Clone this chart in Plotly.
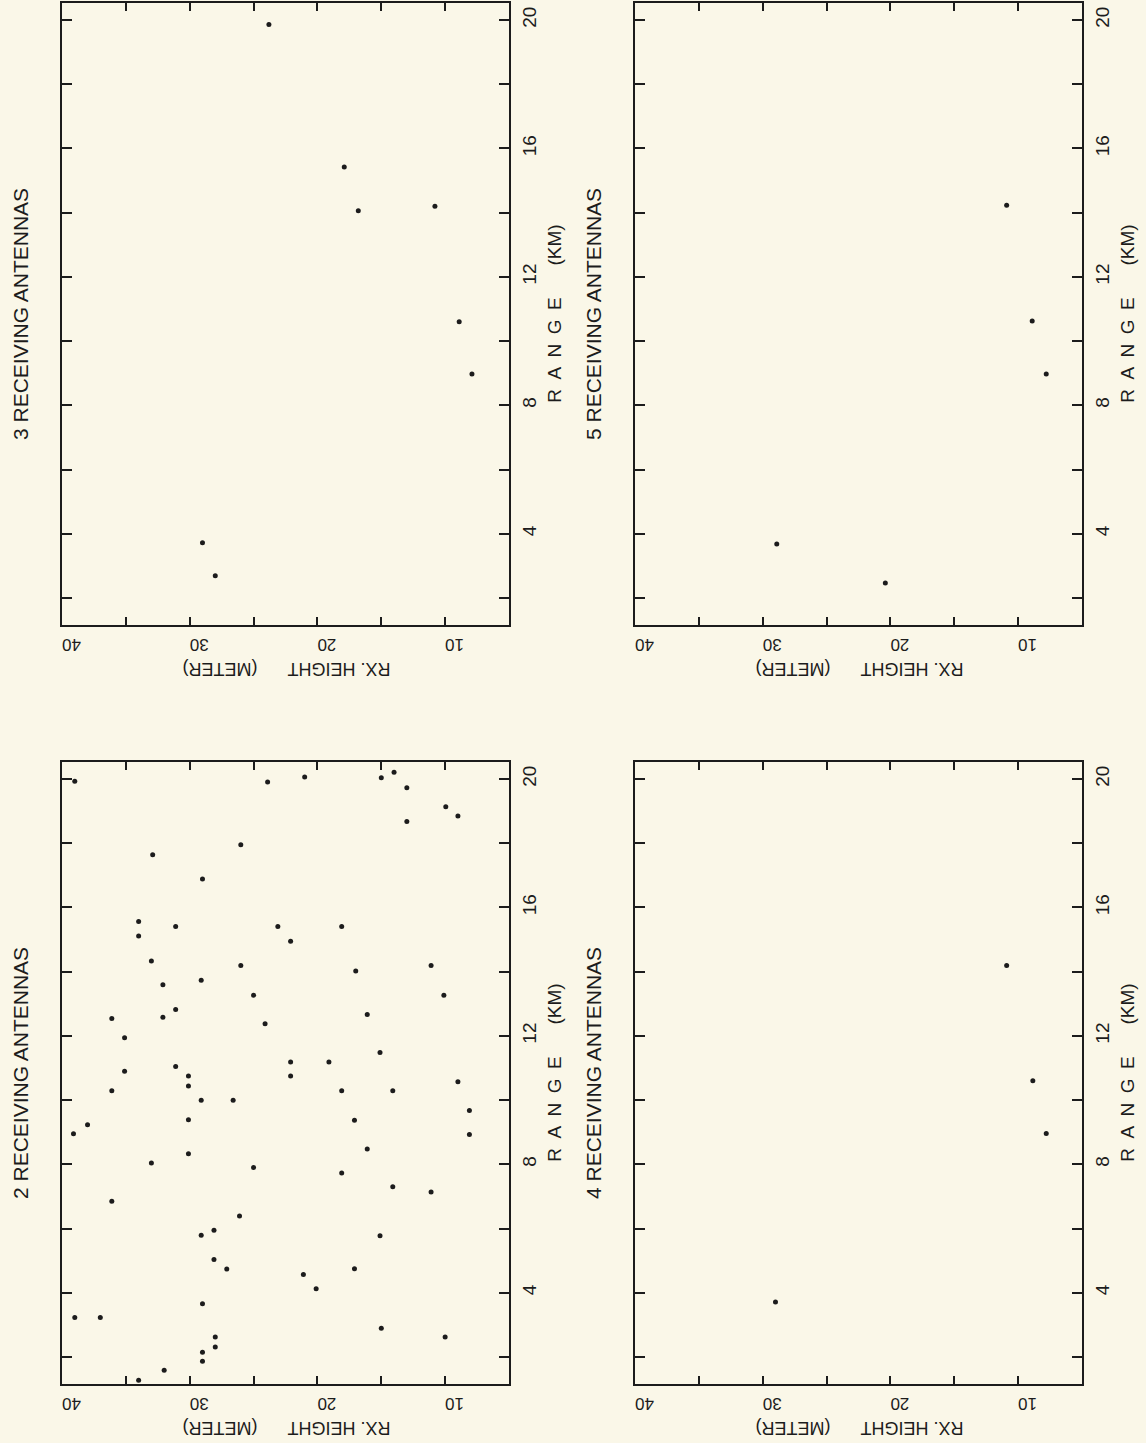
import plotly.graph_objects as go

W, H = 1146, 1443
FONT = "Liberation Sans, Arial, sans-serif"
INK = "#1c1c1c"
PAPER = "#faf7e8"

# ---- data: receiver height (m) vs range (km) for each antenna count ----
ant2_height = [39.0, 23.9, 21.0, 15.0, 14.0, 13.0, 9.95, 9.0, 13.0, 26.0,
               32.9, 29.0, 34.0, 31.1, 23.1, 18.1, 34.0, 22.1, 33.0, 26.0,
               11.1, 29.1, 17.0, 32.1, 25.0, 10.1, 36.1, 32.1, 31.1, 16.1,
               24.1, 35.1, 15.1, 35.1, 31.1, 30.1, 30.1, 22.1, 19.1, 22.1,
               9.0, 36.1, 18.1, 14.1, 29.1, 26.6, 8.1, 38.0, 39.1, 30.1,
               17.1, 8.1, 16.1, 30.1, 33.0, 25.0, 18.1, 14.1, 11.1, 36.1,
               26.1, 28.1, 29.1, 15.1, 28.1, 27.1, 17.1, 21.1, 20.1, 29.0,
               39.0, 37.0, 15.0, 28.0, 10.0, 28.0, 29.0, 29.0, 32.0, 34.0]
ant2_range = [19.93, 19.91, 20.06, 20.04, 20.21, 19.73, 19.14, 18.85, 18.68, 17.95,
              17.64, 16.89, 15.56, 15.41, 15.41, 15.41, 15.11, 14.95, 14.33, 14.19,
              14.19, 13.73, 14.02, 13.59, 13.27, 13.27, 12.54, 12.58, 12.82, 12.67,
              12.38, 11.94, 11.48, 10.90, 11.05, 10.75, 10.44, 11.19, 11.19, 10.75,
              10.57, 10.29, 10.29, 10.29, 10.0, 10.0, 9.68, 9.23, 8.95, 9.39,
              9.37, 8.93, 8.48, 8.33, 8.04, 7.90, 7.73, 7.30, 7.14, 6.85,
              6.39, 5.95, 5.79, 5.78, 5.04, 4.74, 4.75, 4.57, 4.13, 3.66,
              3.23, 3.23, 2.90, 2.62, 2.62, 2.31, 2.15, 1.87, 1.59, 1.28]

ant3_height = [23.8, 17.9, 16.8, 10.8, 8.9, 7.9, 29.0, 28.0]
ant3_range = [19.86, 15.42, 14.06, 14.2, 10.6, 8.98, 3.72, 2.69]

ant4_height = [29.0, 10.9, 8.85, 7.8]
ant4_range = [3.71, 14.19, 10.6, 8.96]

ant5_height = [28.9, 20.4, 10.9, 8.9, 7.8]
ant5_range = [3.68, 2.47, 14.23, 10.63, 8.98]

height_ticks = [10, 15, 20, 25, 30, 35, 40]
height_labels = ["10", "", "20", "", "30", "", "40"]
range_ticks = [2, 4, 6, 8, 10, 12, 14, 16, 18, 20]
range_labels = ["", "4", "", "8", "", "12", "", "16", "", "20"]
panel_titles = ["3 RECEIVING ANTENNAS", "5 RECEIVING ANTENNAS",
                "2 RECEIVING ANTENNAS", "4 RECEIVING ANTENNAS"]

HEIGHT_SPAN = [40, 5]
RANGE_SPAN = [1.16, 20.53]

# panel boxes in pixels: (left, right, top, bottom)
COLS = [(62, 509), (635, 1082)]
ROWS = [(3, 625), (762, 1384)]

def px_x(p):
    return p / W

def px_y(p):
    return 1 - p / H

fig = go.Figure()

panels = [
    (ant3_height, ant3_range, 0, 0),
    (ant5_height, ant5_range, 1, 0),
    (ant2_height, ant2_range, 0, 1),
    (ant4_height, ant4_range, 1, 1),
]

layout_axes = {}
annotations = []
for i, (hx, ry, col, row) in enumerate(panels):
    n = "" if i == 0 else str(i + 1)
    left, right = COLS[col]
    top, bottom = ROWS[row]
    fig.add_trace(go.Scatter(
        x=hx, y=ry, mode="markers",
        marker=dict(size=5, color=INK, symbol="circle"),
        xaxis="x" + n, yaxis="y" + n, showlegend=False, hoverinfo="x+y",
    ))
    layout_axes["xaxis" + n] = dict(
        domain=[px_x(left), px_x(right)], anchor="y" + n,
        range=HEIGHT_SPAN, tickmode="array",
        tickvals=height_ticks, ticktext=height_labels,
        tickangle=180, ticks="inside", ticklen=8, tickwidth=1.5, tickcolor=INK,
        showline=True, linewidth=2, linecolor=INK, mirror="ticks",
        showgrid=False, zeroline=False, ticklabelstandoff=9,
        tickfont=dict(family=FONT, size=17, color=INK),
    )
    layout_axes["yaxis" + n] = dict(
        domain=[px_y(bottom), px_y(top)], anchor="x" + n, side="right",
        range=RANGE_SPAN, tickmode="array",
        tickvals=range_ticks, ticktext=range_labels,
        tickangle=-90, ticks="inside", ticklen=10, tickwidth=1.5, tickcolor=INK,
        showline=True, linewidth=2, linecolor=INK, mirror="ticks",
        showgrid=False, zeroline=False, ticklabelstandoff=2,
        tickfont=dict(family=FONT, size=19, color=INK),
    )
    mid_y = (top + bottom) / 2
    # panel title, left of the frame
    annotations.append(dict(
        x=px_x(left - 42), y=px_y(mid_y), xref="paper", yref="paper",
        text=panel_titles[i], textangle=-90, showarrow=False,
        font=dict(family=FONT, size=21, color=INK),
        xanchor="center", yanchor="middle",
    ))
    # range axis title, right of the tick labels
    rng_mid = bottom - (10.85 - RANGE_SPAN[0]) / (RANGE_SPAN[1] - RANGE_SPAN[0]) * (bottom - top)
    annotations.append(dict(
        x=px_x(right + 46), y=px_y(rng_mid), xref="paper", yref="paper",
        text="R\u2002A\u2002N\u2002G\u2002E" + "\u00a0" * 6 + "(KM)",
        textangle=-90, showarrow=False,
        font=dict(family=FONT, size=19, color=INK),
        xanchor="center", yanchor="middle",
    ))
    # height axis title, upside down under the frame
    hx_mid = left + (40 - 22.4) / 35 * (right - left)
    annotations.append(dict(
        x=px_x(hx_mid), y=px_y(bottom + 44), xref="paper", yref="paper",
        text="RX. HEIGHT" + "\u00a0" * 6 + "(METER)",
        textangle=180, showarrow=False,
        font=dict(family=FONT, size=18, color=INK),
        xanchor="center", yanchor="middle",
    ))

fig.update_layout(
    width=W, height=H,
    margin=dict(l=0, r=0, t=0, b=0),
    paper_bgcolor=PAPER, plot_bgcolor=PAPER,
    annotations=annotations,
    **layout_axes,
)

fig.write_html("out.html")
